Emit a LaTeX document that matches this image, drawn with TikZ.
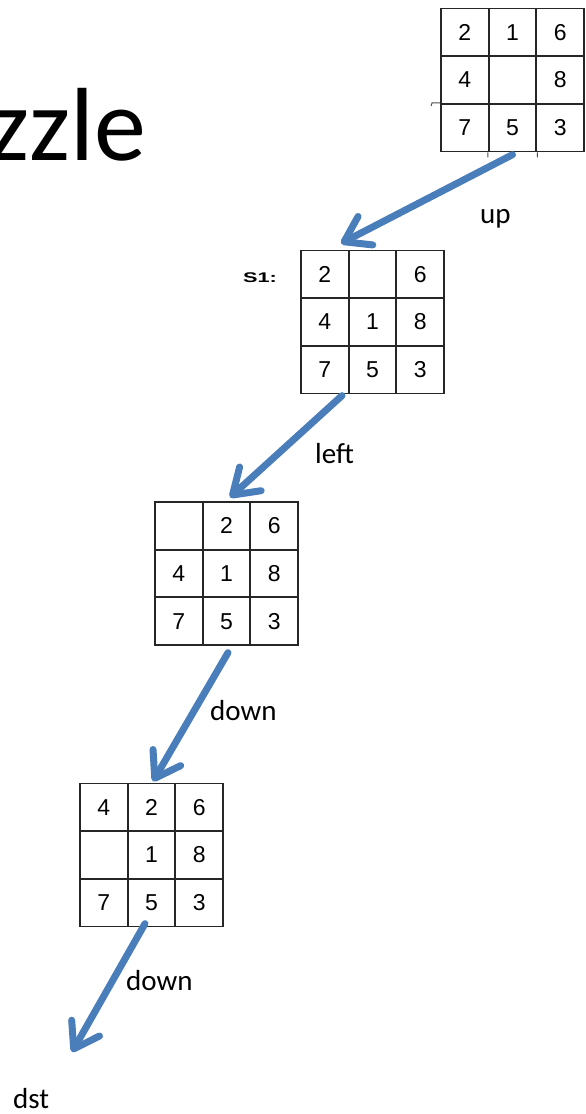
\documentclass[tikz,border=0pt]{standalone}
\usepackage{fontspec}
\setmainfont{Carlito}
\newfontfamily\digitfont{Liberation Sans}
\usetikzlibrary{arrows.meta, matrix}
\definecolor{moveblue}{RGB}{74,126,187}

\begin{document}
\begin{tikzpicture}[
        x = 1pt, y = -1pt,
        cell/.style = {
            draw = black!85, line width = 1.8pt,
            anchor = center,
            minimum size = 47.7pt, inner sep = 0pt,
            font = \digitfont\fontsize{23}{23}\selectfont,
        },
        board/.style = {
            matrix of nodes, nodes in empty cells,
            inner sep = 0pt,
            column sep = -1.8pt, row sep = -1.8pt,
            nodes = cell,
        },
        move/.style = {
            color = moveblue, line width = 7pt, line cap = round,
            -{Straight Barb[length = 24pt, width = 32pt, round]},
        },
        lbl/.style = {
            anchor = base west, inner sep = 0pt,
            font = \fontsize{29}{29}\selectfont,
        },
        ]
        \useasboundingbox (0,0) rectangle (586,1114);

        % Titel
        \node[lbl, font = \fontsize{104}{104}\selectfont] (title) at (-12,160) {zzle};

        % Toestanden
        \matrix[board] (s0) at (512.5,80)  {2 & 1 & 6 \\ 4 &   & 8 \\ 7 & 5 & 3 \\};
        \matrix[board] (s1) at (372.5,322) {2 &   & 6 \\ 4 & 1 & 8 \\ 7 & 5 & 3 \\};
        \matrix[board] (s2) at (226.5,573.5) {  & 2 & 6 \\ 4 & 1 & 8 \\ 7 & 5 & 3 \\};
        \matrix[board] (s3) at (151.5,855) {4 & 2 & 6 \\   & 1 & 8 \\ 7 & 5 & 3 \\};
        \node[anchor = base west, inner sep = 0pt,
            font = \digitfont\bfseries\fontsize{14}{14}\selectfont]
            (s1name) at (243,282) {\scalebox{1.55}[1]{S1:}};
        \coordinate (goal) at (72,1052);

        % losse streepjes van de scan
        \draw[black!70, line width = 1pt]
            (s0-3-1.north west) -- ++(-8,0) -- ++(-1,3)
            (s0-3-2.south west) -- ++(0,5)
            (s0-3-2.south east) -- ++(0,5);

        % Transities
        \path
            [
            move
            ]
            ([yshift = -2pt]s0.south) edge ([xshift = -31.5pt, yshift = 6pt]s1.north)
            ([xshift = -30.5pt, yshift = -1pt]s1.south) edge ([xshift = 3.5pt, yshift = 3.5pt]s2.north)
            ([xshift = 1.5pt, yshift = -6.5pt]s2.south) edge ([xshift = 1.5pt, yshift = 1pt]s3.north)
            ([xshift = -6.5pt, yshift = 4pt]s3.south) edge (goal);

        \node[lbl] (up) at (480,223) {up};
        \node[lbl] (left) at (315,463) {left};
        \node[lbl] (down) at (210,720) {down};
        \node[lbl] (down2) at (126,990) {down};
        \node[lbl] (dst) at (13,1108) {dst};
\end{tikzpicture}
\end{document}
